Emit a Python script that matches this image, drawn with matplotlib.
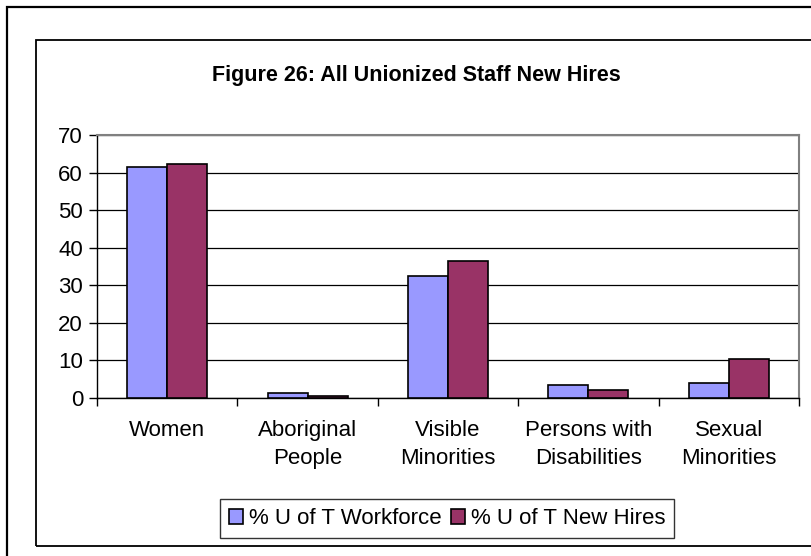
import matplotlib
matplotlib.use("Agg")
import matplotlib.pyplot as plt
from matplotlib.patches import Rectangle
import numpy as np

plt.rcParams['font.family'] = ['Liberation Sans', 'DejaVu Sans']

categories = ["Women", "Aboriginal\nPeople", "Visible\nMinorities",
              "Persons with\nDisabilities", "Sexual\nMinorities"]
workforce = [61.5, 1.2, 32.6, 3.5, 4.0]
new_hires = [62.4, 0.4, 36.5, 2.2, 10.4]
series_names = ["% U of T Workforce", "% U of T New Hires"]
y_ticks = [0, 10, 20, 30, 40, 50, 60, 70]

fig = plt.figure(figsize=(8.12, 5.56), dpi=100)
fig.patch.set_facecolor('white')

# borders
fig.patches.append(Rectangle((7/812, -0.1), 2.0, 1 - 7/556 + 0.1, transform=fig.transFigure,
                             fill=False, edgecolor='black', linewidth=1.6, zorder=0))
fig.patches.append(Rectangle((36/812, 1 - 546/556), 2.0, (546 - 40)/556, transform=fig.transFigure,
                             fill=False, edgecolor='black', linewidth=1.3, zorder=0))

ax = fig.add_axes([97/812, 1 - 398/556, (799 - 97)/812, (398 - 135)/556])
x = np.arange(len(categories))
w = 0.285
ax.bar(x - w/2, workforce, width=w, color='#9999FF', edgecolor='black', linewidth=1.2,
       label=series_names[0], zorder=3)
ax.bar(x + w/2, new_hires, width=w, color='#993366', edgecolor='black', linewidth=1.2,
       label=series_names[1], zorder=3)

ax.set_xlim(-0.5, len(categories) - 0.5)
ax.set_ylim(0, 70)
ax.set_yticks(y_ticks)
ax.yaxis.grid(True, color='black', linewidth=0.9, zorder=0)
ax.set_axisbelow(True)

ax.set_xticks(np.arange(len(categories) + 1) - 0.5)
ax.set_xticklabels([])
ax.set_xticks(x, minor=True)
ax.set_xticklabels(categories, minor=True, fontsize=16, linespacing=1.45)
ax.tick_params(axis='x', which='major', direction='out', length=6, width=1, color='black')
ax.tick_params(axis='x', which='minor', length=0, pad=16)
ax.tick_params(axis='y', direction='out', length=6, width=1, labelsize=16, pad=4)

for s in ['left', 'bottom']:
    ax.spines[s].set_color('black')
    ax.spines[s].set_linewidth(1.0)
for s in ['top', 'right']:
    ax.spines[s].set_color('#808080')
    ax.spines[s].set_linewidth(1.5)

fig.text(416/812, 1 - 75/556, "Figure 26: All Unionized Staff New Hires",
         ha='center', va='center', fontsize=15.5, fontweight='bold')

leg = fig.legend(loc='center', bbox_to_anchor=(447/812, 1 - 518.5/556), ncol=2,
                 fontsize=16, frameon=True, fancybox=False, shadow=False,
                 handlelength=0.65, handleheight=0.65, handletextpad=0.25,
                 columnspacing=0.4, borderpad=0.4, borderaxespad=0)
leg.get_frame().set_edgecolor('black')
leg.get_frame().set_linewidth(1.0)

fig.savefig("out.png", dpi=100)
